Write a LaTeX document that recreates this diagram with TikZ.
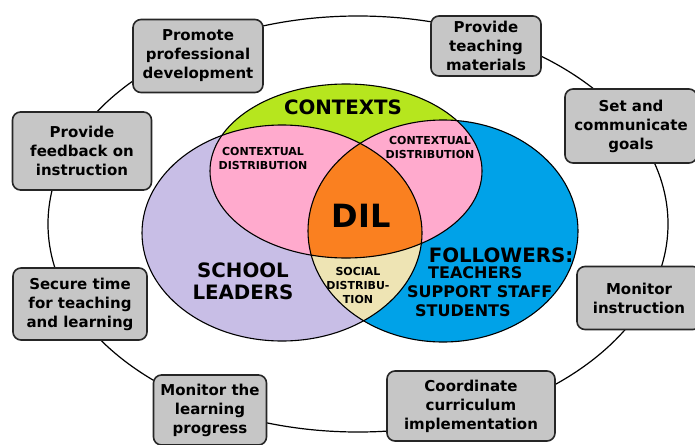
\documentclass[tikz,border=0pt]{standalone}
\usepackage{fontspec}
\setsansfont{DejaVu Sans}
\usepackage{tikz}
\usetikzlibrary{backgrounds,calc,shapes,positioning}
\definecolor{boxgray}{RGB}{198,198,198}
\definecolor{ctxgreen}{RGB}{182,230,30}
\definecolor{leadviolet}{RGB}{200,190,230}
\definecolor{folblue}{RGB}{0,162,232}
\definecolor{distpink}{RGB}{255,170,205}
\definecolor{dilorange}{RGB}{250,128,32}
\definecolor{socbeige}{RGB}{238,228,180}

\begin{document}
\begin{tikzpicture}[x=1pt,y=-1pt]
    \tikzstyle{task}=[rectangle,rounded corners=8pt,draw=black!85,line width=1.6pt,
    fill=boxgray,font=\sffamily\bfseries\fontsize{15}{19}\selectfont,align=center,
    inner sep=0pt]
    \tikzstyle{big}=[font=\sffamily\bfseries\fontsize{19.8}{22}\selectfont,align=center]
    \tikzstyle{small}=[font=\sffamily\bfseries\fontsize{11}{14}\selectfont,align=center]
    \tikzstyle{fol}=[font=\sffamily\bfseries\fontsize{16}{19}\selectfont,anchor=west,inner sep=0pt]

    \useasboundingbox (0,0) rectangle (695,444);

    % outer ring of leadership tasks
    \draw[line width=1.2pt] (358,224) ellipse [x radius=310pt, y radius=208pt];

    % the three sets
    \coordinate (ctx) at (346,171);
    \coordinate (lead) at (282,233);
    \coordinate (fols) at (443,231);
    \def\ctxset{(ctx) ellipse [x radius=136pt, y radius=87pt]}
    \def\leadset{(lead) ellipse [x radius=140pt, y radius=108pt]}
    \def\folset{(fols) ellipse [x radius=135pt, y radius=111pt]}

    \fill[leadviolet] \leadset;
    \fill[folblue] \folset;
    \begin{scope}
      \clip \leadset;
      \fill[socbeige] \folset;
    \end{scope}
    \fill[ctxgreen] \ctxset;
    \begin{scope}
      \clip \ctxset;
      \fill[distpink] \leadset;
      \fill[distpink] \folset;
      \clip \leadset;
      \fill[dilorange] \folset;
    \end{scope}
    \draw[line width=1.1pt] \leadset;
    \draw[line width=1.1pt] \folset;
    \draw[line width=1.1pt] \ctxset;

    \node[big](contexts) at (343,107){CONTEXTS};
    \node[small](ctx_dist_l) at (263,158){CONTEXTUAL\\DISTRIBUTION};
    \node[small](ctx_dist_r) at (430,147){CONTEXTUAL\\DISTRIBUTION};
    \node[font=\sffamily\bfseries\fontsize{32}{36}\selectfont](dil) at (361,216){DIL};
    \node[small](soc_dist) at (358,285){SOCIAL\\DISTRIBU-\\TION};
    \node[big](leaders) at (243,281){SCHOOL\\LEADERS};
    \node[big](followers) at (501,255){FOLLOWERS:};
    \node[fol](teachers) at (428,273){TEACHERS};
    \node[fol](staff) at (407,292){SUPPORT STAFF};
    \node[fol](students) at (415,311){STUDENTS};

    % tasks round the ring
    \node[task,minimum width=130pt,minimum height=73pt](promote) at (198,56)
      {Promote\\professional\\development};
    \node[task,minimum width=110pt,minimum height=60pt](materials) at (486,46)
      {Provide\\teaching\\materials};
    \node[task,minimum width=132pt,minimum height=74pt](goals) at (631,126)
      {Set and\\communicate\\goals};
    \node[task,minimum width=124pt,minimum height=63pt](instruction) at (639,298)
      {Monitor\\instruction};
    \node[task,minimum width=168pt,minimum height=70pt](curriculum) at (471,406)
      {Coordinate\\curriculum\\implementation};
    \node[task,minimum width=113pt,minimum height=70pt](progress) at (210,410)
      {Monitor the\\learning\\progress};
    \node[task,minimum width=134pt,minimum height=72pt](time) at (80,304)
      {Secure time\\for teaching\\and learning};
    \node[task,minimum width=139pt,minimum height=78pt](feedback) at (82,151)
      {Provide\\feedback on\\instruction};
\end{tikzpicture}
\end{document}
